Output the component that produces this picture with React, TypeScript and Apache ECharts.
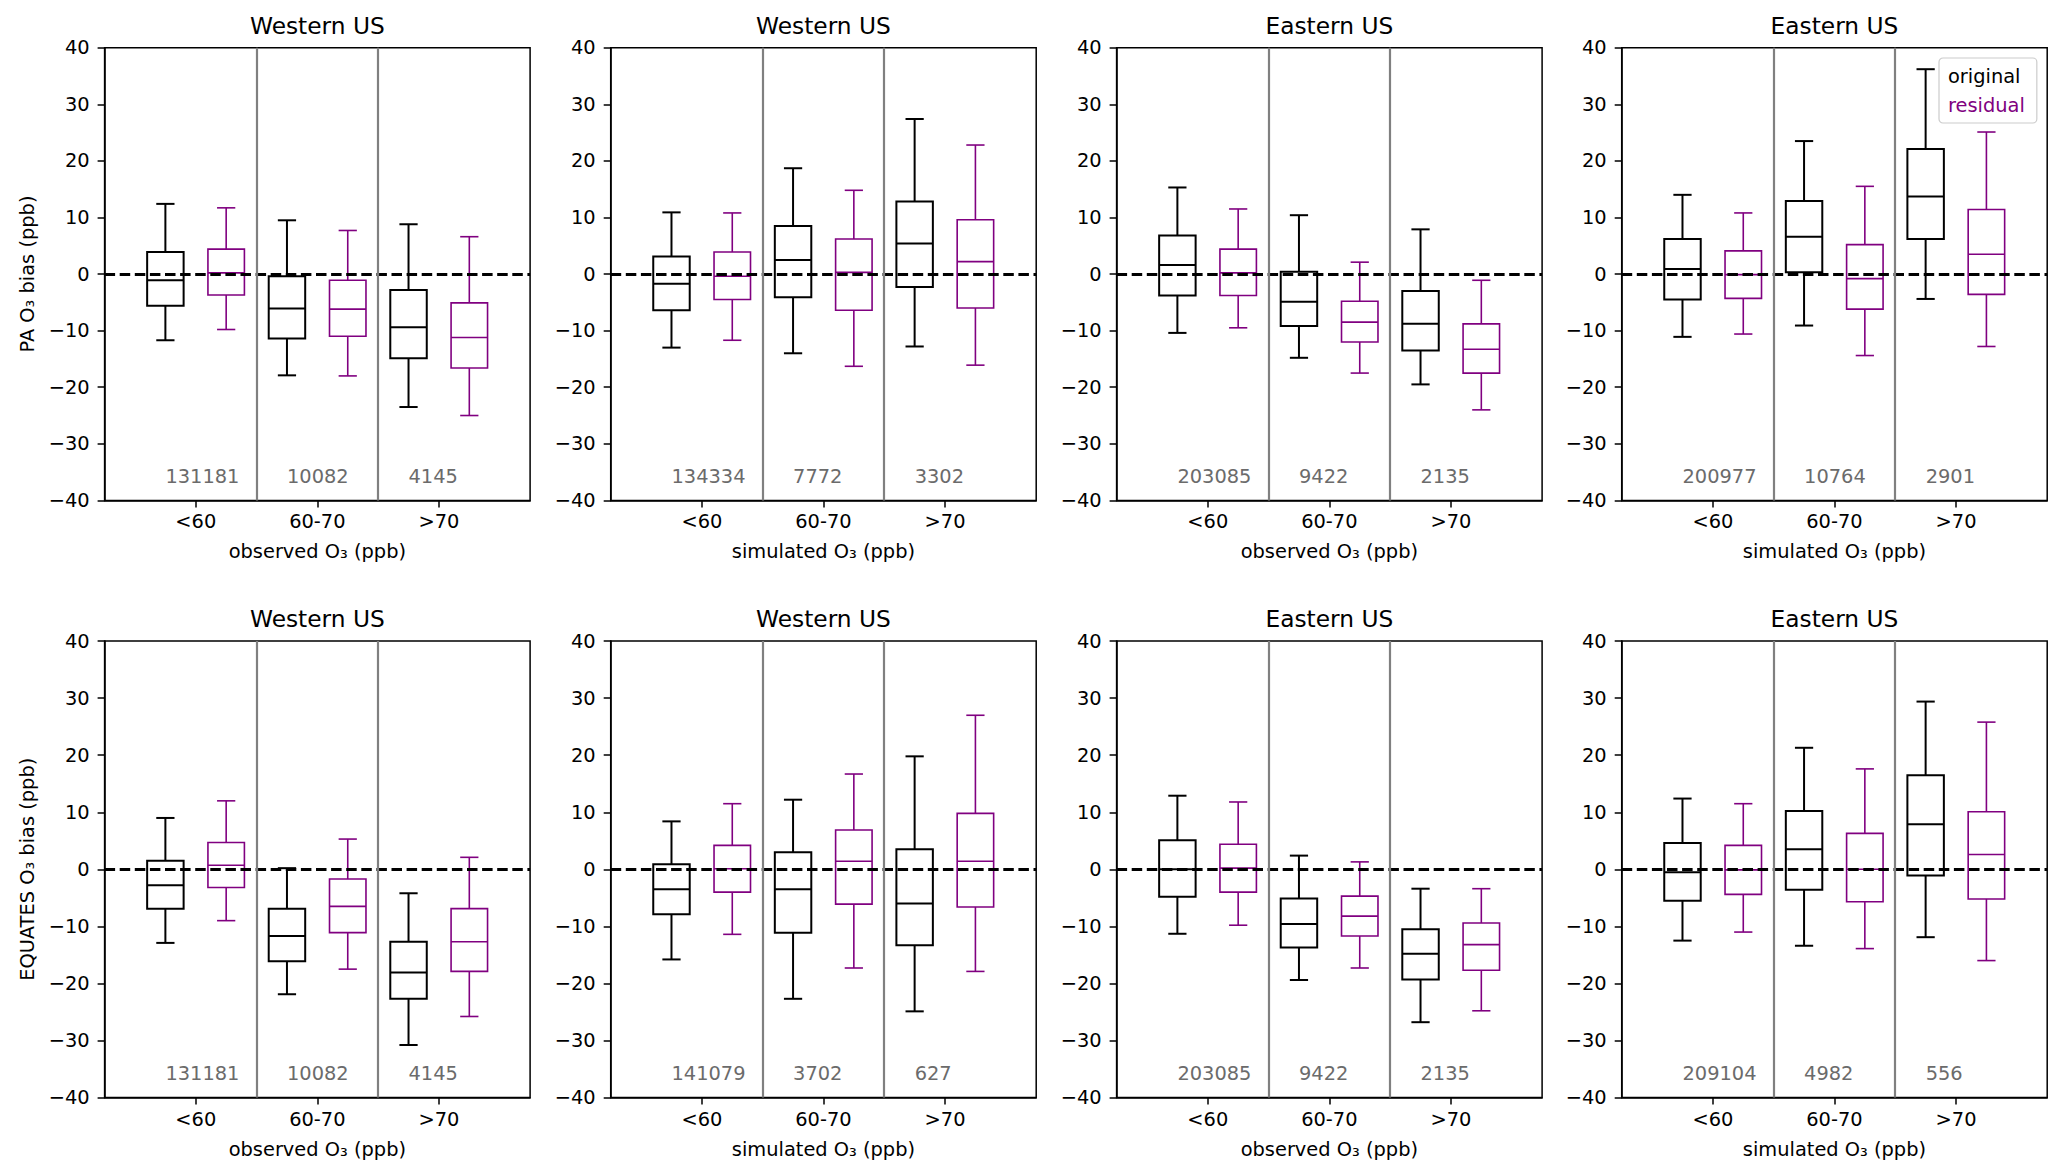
import React, { useEffect, useRef } from "react";
import * as echarts from "echarts";

// ---------------- data ----------------
const categories = ["<60", "60-70", ">70"];
const yTickMin = -40;
const yTickMax = 40;
const yTickStep = 10;

const panelTitles = [
  "Western US", "Western US", "Eastern US", "Eastern US",
  "Western US", "Western US", "Eastern US", "Eastern US",
];
const xAxisNames = [
  "observed O₃ (ppb)", "simulated O₃ (ppb)", "observed O₃ (ppb)", "simulated O₃ (ppb)",
  "observed O₃ (ppb)", "simulated O₃ (ppb)", "observed O₃ (ppb)", "simulated O₃ (ppb)",
];
const yAxisNames = ["PA O₃ bias (ppb)", "EQUATES O₃ bias (ppb)"];
const seriesNames = ["original", "residual"];

// each box: [lower whisker, Q1, median, Q3, upper whisker]
const paWestObsOriginal = [[-11.7, -5.6, -1.1, 3.9, 12.4], [-17.9, -11.4, -6.1, -0.4, 9.5], [-23.5, -14.9, -9.4, -2.8, 8.8]];
const paWestObsResidual = [[-9.8, -3.7, 0.2, 4.4, 11.7], [-18.0, -11.0, -6.2, -1.1, 7.7], [-25.0, -16.6, -11.2, -5.1, 6.6]];
const paWestSimOriginal = [[-13.0, -6.4, -1.7, 3.1, 10.9], [-14.0, -4.1, 2.5, 8.5, 18.7], [-12.8, -2.3, 5.4, 12.8, 27.4]];
const paWestSimResidual = [[-11.7, -4.5, -0.4, 3.9, 10.8], [-16.3, -6.4, 0.3, 6.2, 14.8], [-16.1, -6.0, 2.2, 9.6, 22.8]];
const paEastObsOriginal = [[-10.4, -3.8, 1.6, 6.8, 15.3], [-14.8, -9.2, -4.9, 0.4, 10.4], [-19.5, -13.5, -8.8, -3.0, 7.9]];
const paEastObsResidual = [[-9.5, -3.8, 0.2, 4.4, 11.5], [-17.5, -12.0, -8.5, -4.8, 2.1], [-24.0, -17.5, -13.3, -8.8, -1.1]];
const paEastSimOriginal = [[-11.1, -4.5, 0.9, 6.2, 14.0], [-9.1, 0.3, 6.6, 12.9, 23.5], [-4.4, 6.2, 13.7, 22.1, 36.2]];
const paEastSimResidual = [[-10.6, -4.3, -0.1, 4.1, 10.8], [-14.4, -6.2, -0.8, 5.2, 15.5], [-12.8, -3.6, 3.5, 11.4, 25.1]];
const eqWestObsOriginal = [[-12.9, -6.9, -2.8, 1.5, 9.0], [-21.9, -16.1, -11.7, -6.9, 0.2], [-30.8, -22.7, -18.1, -12.7, -4.2]];
const eqWestObsResidual = [[-9.0, -3.2, 0.7, 4.7, 12.0], [-17.5, -11.1, -6.5, -1.7, 5.3], [-25.8, -17.9, -12.7, -6.9, 2.1]];
const eqWestSimOriginal = [[-15.8, -7.9, -3.5, 0.9, 8.4], [-22.7, -11.1, -3.5, 3.0, 12.2], [-24.9, -13.3, -6.0, 3.5, 19.8]];
const eqWestSimResidual = [[-11.4, -4.0, 0.1, 4.2, 11.5], [-17.3, -6.1, 1.4, 6.9, 16.7], [-17.9, -6.6, 1.4, 9.8, 27.0]];
const eqEastObsOriginal = [[-11.3, -4.8, 0.0, 5.1, 12.9], [-19.4, -13.7, -9.6, -5.1, 2.4], [-26.8, -19.3, -14.8, -10.5, -3.4]];
const eqEastObsResidual = [[-9.8, -4.0, 0.2, 4.4, 11.8], [-17.3, -11.7, -8.2, -4.7, 1.3], [-24.8, -17.7, -13.2, -9.4, -3.4]];
const eqEastSimOriginal = [[-12.5, -5.5, -0.5, 4.6, 12.4], [-13.4, -3.6, 3.5, 10.2, 21.3], [-11.9, -1.1, 7.9, 16.5, 29.4]];
const eqEastSimResidual = [[-11.0, -4.4, -0.1, 4.2, 11.5], [-13.9, -5.7, 0.0, 6.3, 17.6], [-16.0, -5.2, 2.6, 10.1, 25.8]];

const paWestObsCounts = [131181, 10082, 4145];
const paWestSimCounts = [134334, 7772, 3302];
const paEastObsCounts = [203085, 9422, 2135];
const paEastSimCounts = [200977, 10764, 2901];
const eqWestObsCounts = [131181, 10082, 4145];
const eqWestSimCounts = [141079, 3702, 627];
const eqEastObsCounts = [203085, 9422, 2135];
const eqEastSimCounts = [209104, 4982, 556];

const panelOriginal = [paWestObsOriginal, paWestSimOriginal, paEastObsOriginal, paEastSimOriginal, eqWestObsOriginal, eqWestSimOriginal, eqEastObsOriginal, eqEastSimOriginal];
const panelResidual = [paWestObsResidual, paWestSimResidual, paEastObsResidual, paEastSimResidual, eqWestObsResidual, eqWestSimResidual, eqEastObsResidual, eqEastSimResidual];
const panelCounts = [paWestObsCounts, paWestSimCounts, paEastObsCounts, paEastSimCounts, eqWestObsCounts, eqWestSimCounts, eqEastObsCounts, eqEastSimCounts];

// ---------------- layout / style ----------------
const FONT = "DejaVu Sans";
const TICK_FS = 19.4;
const TITLE_FS = 23.3;
const BLACK = "#000000";
const PURPLE = "#800080";
const GRID_LEFTS = [104.6, 610.7, 1116.6, 1621.7];
const GRID_WIDTH = 425.5;
const ROW_TOPS = [47.7, 641.1];
const ROW_HEIGHTS = [452.7, 456.4];
const TITLE_TOPS = [14, 607];
const X_MIN = 0.25;
const X_MAX = 3.75;
const BOX_OFFSET = 0.25;
const BOX_WIDTH = 0.3;
const CAP_WIDTH = 0.15;
const COUNT_Y = -35.8;

function minusFmt(v: number) {
  return v < 0 ? "\u2212" + Math.abs(v) : String(v);
}

function makeBoxRenderer(color: string, lw: number) {
  return (params: any, api: any) => {
    const x = api.value(0);
    const pLo = api.coord([x, api.value(1)]);
    const pQ1 = api.coord([x, api.value(2)]);
    const pMed = api.coord([x, api.value(3)]);
    const pQ3 = api.coord([x, api.value(4)]);
    const pHi = api.coord([x, api.value(5)]);
    const bw = api.size([BOX_WIDTH, 0])[0];
    const cw = api.size([CAP_WIDTH, 0])[0];
    const cx = pMed[0];
    const st = { stroke: color, lineWidth: lw, fill: null };
    return {
      type: "group",
      children: [
        { type: "rect", shape: { x: cx - bw / 2, y: pQ3[1], width: bw, height: pQ1[1] - pQ3[1] }, style: { stroke: color, lineWidth: lw, fill: "rgba(0,0,0,0)" } },
        { type: "line", shape: { x1: cx - bw / 2, y1: pMed[1], x2: cx + bw / 2, y2: pMed[1] }, style: st },
        { type: "line", shape: { x1: cx, y1: pQ3[1], x2: cx, y2: pHi[1] }, style: st },
        { type: "line", shape: { x1: cx, y1: pQ1[1], x2: cx, y2: pLo[1] }, style: st },
        { type: "line", shape: { x1: cx - cw / 2, y1: pHi[1], x2: cx + cw / 2, y2: pHi[1] }, style: st },
        { type: "line", shape: { x1: cx - cw / 2, y1: pLo[1], x2: cx + cw / 2, y2: pLo[1] }, style: st },
      ],
    };
  };
}

function renderCount(params: any, api: any) {
  const x = api.value(0);
  const p = api.coord([x - BOX_OFFSET, COUNT_Y]);
  return {
    type: "text",
    x: p[0],
    y: p[1],
    style: {
      text: String(api.value(1)),
      fill: "#6b6b6b",
      fontSize: TICK_FS,
      fontFamily: FONT,
      align: "left",
      verticalAlign: "middle",
    },
  };
}

function buildOption() {
  const grids: any[] = [];
  const xAxes: any[] = [];
  const yAxes: any[] = [];
  const series: any[] = [];
  const titles: any[] = [];

  for (let k = 0; k < 8; k++) {
    const row = Math.floor(k / 4);
    const col = k % 4;
    grids.push({
      left: GRID_LEFTS[col],
      top: ROW_TOPS[row],
      width: GRID_WIDTH,
      height: ROW_HEIGHTS[row],
      show: true,
      borderColor: BLACK,
      borderWidth: 1.5,
      backgroundColor: "transparent",
      containLabel: false,
    });
    titles.push({
      text: panelTitles[k],
      left: GRID_LEFTS[col] + GRID_WIDTH / 2,
      top: TITLE_TOPS[row],
      textAlign: "center",
      padding: 0,
      textStyle: { fontSize: TITLE_FS, fontWeight: "normal", color: BLACK, fontFamily: FONT },
    });
    xAxes.push({
      gridIndex: k,
      type: "value",
      min: X_MIN,
      max: X_MAX,
      name: xAxisNames[k],
      nameLocation: "middle",
      nameGap: 42,
      nameTextStyle: { fontSize: TICK_FS, color: BLACK, fontFamily: FONT },
      axisLine: { show: true, onZero: false, lineStyle: { color: BLACK, width: 1.5 } },
      axisTick: { show: true, length: 7, customValues: [1, 2, 3], lineStyle: { color: BLACK, width: 1.5 } },
      axisLabel: {
        show: true,
        customValues: [1, 2, 3],
        margin: 12,
        fontSize: TICK_FS,
        color: BLACK,
        fontFamily: FONT,
        formatter: (v: number) => categories[Math.round(v) - 1] ?? "",
      },
      splitLine: { show: false },
    });
    yAxes.push({
      gridIndex: k,
      type: "value",
      min: yTickMin,
      max: yTickMax,
      interval: yTickStep,
      name: col === 0 ? yAxisNames[row] : "",
      nameLocation: "middle",
      nameGap: 68,
      nameTextStyle: { fontSize: TICK_FS, color: BLACK, fontFamily: FONT },
      axisLine: { show: true, onZero: false, lineStyle: { color: BLACK, width: 1.5 } },
      axisTick: { show: true, length: 7, lineStyle: { color: BLACK, width: 1.5 } },
      axisLabel: { margin: 15, fontSize: TICK_FS, color: BLACK, fontFamily: FONT, formatter: minusFmt },
      splitLine: { show: false },
    });

    series.push({
      name: seriesNames[0],
      type: "custom",
      xAxisIndex: k,
      yAxisIndex: k,
      z: 2,
      silent: true,
      renderItem: makeBoxRenderer(BLACK, 2),
      encode: { x: 0, y: [1, 2, 3, 4, 5] },
      data: panelOriginal[k].map((b, i) => [i + 1 - BOX_OFFSET, ...b]),
    });
    series.push({
      name: seriesNames[1],
      type: "custom",
      xAxisIndex: k,
      yAxisIndex: k,
      z: 2,
      silent: true,
      renderItem: makeBoxRenderer(PURPLE, 1.6),
      encode: { x: 0, y: [1, 2, 3, 4, 5] },
      data: panelResidual[k].map((b, i) => [i + 1 + BOX_OFFSET, ...b]),
    });
    series.push({
      name: "counts",
      type: "custom",
      xAxisIndex: k,
      yAxisIndex: k,
      z: 5,
      silent: true,
      renderItem: renderCount,
      encode: { x: 0 },
      data: panelCounts[k].map((c, i) => [i + 1, c]),
      markLine: {
        silent: true,
        symbol: ["none", "none"],
        label: { show: false },
        animation: false,
        data: [
          { yAxis: 0, lineStyle: { color: BLACK, width: 2.8, type: [10.5, 4.6] } },
          { xAxis: 1.5, lineStyle: { color: "#808080", width: 2.2, type: "solid" } },
          { xAxis: 2.5, lineStyle: { color: "#808080", width: 2.2, type: "solid" } },
        ],
      },
    });
  }

  return {
    animation: false,
    backgroundColor: "#ffffff",
    textStyle: { fontFamily: FONT },
    title: titles,
    grid: grids,
    xAxis: xAxes,
    yAxis: yAxes,
    legend: {
      show: true,
      data: [
        { name: seriesNames[0], textStyle: { color: BLACK } },
        { name: seriesNames[1], textStyle: { color: PURPLE } },
      ],
      orient: "vertical",
      left: 1939,
      top: 58,
      icon: "none",
      itemWidth: 0,
      itemHeight: 20,
      itemGap: 10,
      padding: [8, 12, 8, 4],
      borderColor: "#cccccc",
      borderWidth: 1.2,
      borderRadius: 4,
      backgroundColor: "rgba(255,255,255,0.8)",
      selectedMode: false,
      textStyle: { fontSize: TICK_FS, fontFamily: FONT },
    },
    series,
  };
}

export default function App() {
  const ref = useRef<HTMLDivElement>(null);
  useEffect(() => {
    if (!ref.current) return;
    const chart = echarts.init(ref.current, null, { renderer: "svg" });
    chart.setOption(buildOption() as any);
    return () => chart.dispose();
  }, []);
  return (
    <div
      ref={ref}
      style={{ position: "fixed", left: 0, top: 0, width: "2067px", height: "1175px", background: "#fff" }}
    />
  );
}
